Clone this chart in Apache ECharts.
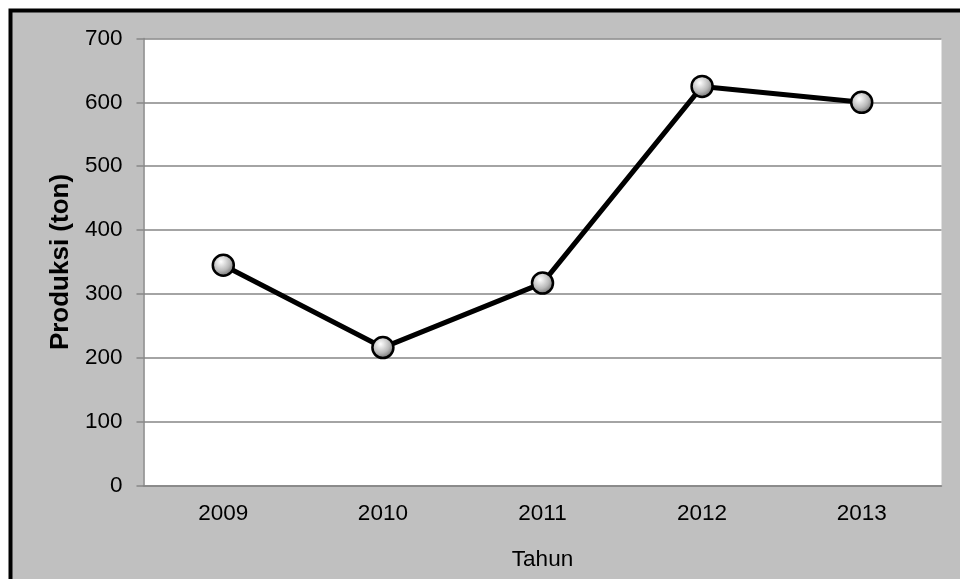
<!DOCTYPE html>
<html><head><meta charset="utf-8">
<script src="https://cdn.jsdelivr.net/npm/echarts@6/dist/echarts.min.js"></script>
<style>html,body{margin:0;padding:0;background:#fff}#c{width:960px;height:579px}</style>
</head><body><div id="c"></div>
<script>
const categories = ['2009', '2010', '2011', '2012', '2013'];
const produksi = [345, 216, 317, 625, 600];
const yTicks = { min: 0, max: 700, interval: 100 };

const chart = echarts.init(document.getElementById('c'), null, { renderer: 'canvas' });
const font = '"Liberation Sans", Arial, sans-serif';
chart.setOption({
  animation: false,
  backgroundColor: '#ffffff',
  graphic: [{
    type: 'rect', z: -10, silent: true,
    shape: { x: 10.5, y: 10.5, width: 1000, height: 1000 },
    style: { fill: '#c0c0c0', stroke: '#000000', lineWidth: 4 }
  }],
  grid: { left: 143.5, right: 18.5, top: 38.5, bottom: 93.5, show: true, backgroundColor: '#ffffff', borderWidth: 0 },
  xAxis: {
    type: 'category', data: categories, boundaryGap: true,
    name: 'Tahun', nameLocation: 'middle', nameGap: 63,
    nameTextStyle: { fontFamily: font, fontSize: 22.5, color: '#000' },
    axisLine: { show: true, lineStyle: { color: '#868686', width: 1.5 } },
    axisTick: { show: false },
    axisLabel: { fontFamily: font, fontSize: 22.5, color: '#000', margin: 17 }
  },
  yAxis: {
    type: 'value', min: yTicks.min, max: yTicks.max, interval: yTicks.interval,
    name: 'Produksi (ton)', nameLocation: 'middle', nameGap: 69,
    nameTextStyle: { fontFamily: font, fontSize: 26, fontWeight: 'bold', color: '#000' },
    axisLine: { show: true, lineStyle: { color: '#868686', width: 1.5 } },
    axisTick: { show: true, length: 7, lineStyle: { color: '#868686', width: 1.5 } },
    axisLabel: { fontFamily: font, fontSize: 22.5, color: '#000', margin: 21 },
    splitLine: { show: true, lineStyle: { color: '#868686', width: 1.5 } }
  },
  series: [{
    type: 'line', data: produksi,
    symbol: 'circle', symbolSize: 21,
    lineStyle: { color: '#000', width: 5 },
    itemStyle: {
      color: { type: 'radial', x: 0.4, y: 0.35, r: 0.65,
        colorStops: [{ offset: 0, color: '#ffffff' }, { offset: 0.6, color: '#b8b8b8' }, { offset: 1, color: '#6a6a6a' }] },
      borderColor: '#000', borderWidth: 2.5
    }
  }]
});
</script></body></html>
